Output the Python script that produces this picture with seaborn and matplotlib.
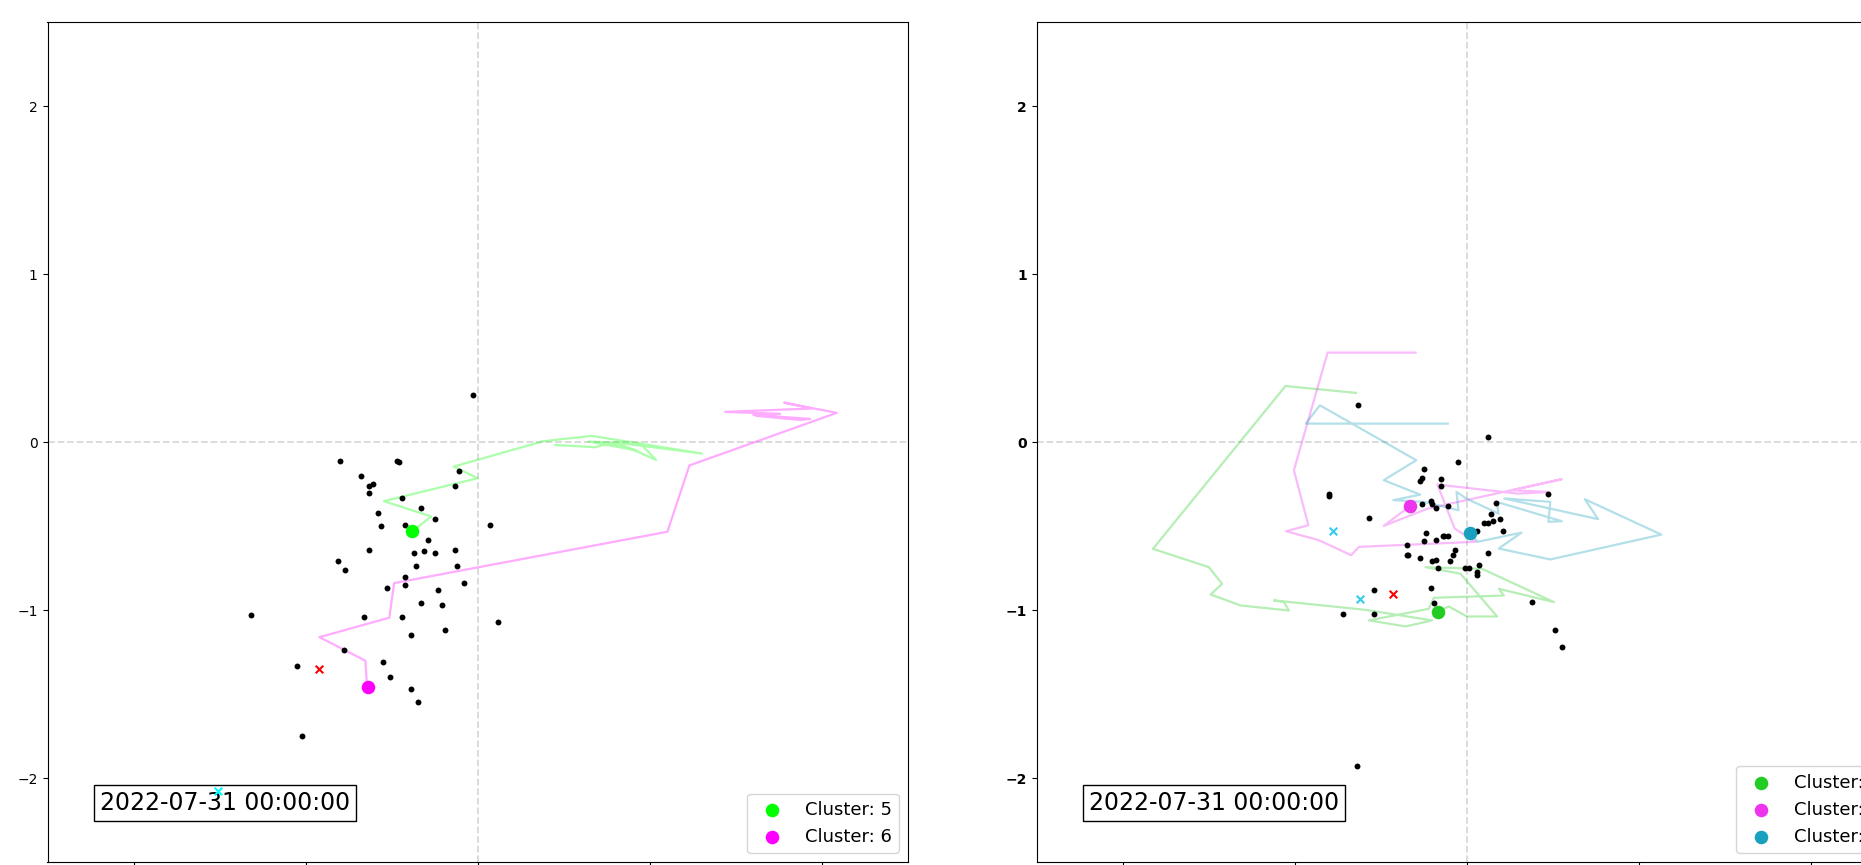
import matplotlib
matplotlib.use("Agg")
import matplotlib.pyplot as plt
import seaborn as sns

# ---------------- data: left panel ----------------
date_label = "2022-07-31 00:00:00"
ticks = [-2, -1, 0, 1, 2]

left_pts_x = [-0.03, -0.80, -0.47, -0.46, -0.68, -0.11, -0.61, -0.63, -0.13, -0.63,
              -0.44, -0.33, -0.58, -0.25, -0.56, -0.42, 0.07, -0.29, -0.63, -0.37,
              -0.31, -0.25, -0.13, -0.81, -0.77, -0.36, -0.12, -0.42, -0.42, -0.53,
              -0.08, -0.23, -0.33, -0.21, -1.32, -0.66, -0.44, 0.12, -0.39, -0.19,
              -0.78, -1.05, -0.55, -0.51, -0.39, -0.35, -1.02]
left_pts_y = [0.28, -0.11, -0.11, -0.12, -0.20, -0.17, -0.25, -0.26, -0.26, -0.30,
              -0.33, -0.39, -0.42, -0.46, -0.50, -0.49, -0.49, -0.58, -0.64, -0.66,
              -0.65, -0.66, -0.64, -0.71, -0.76, -0.74, -0.74, -0.80, -0.85, -0.87,
              -0.84, -0.88, -0.96, -0.97, -1.03, -1.04, -1.04, -1.07, -1.15, -1.12,
              -1.24, -1.33, -1.31, -1.40, -1.47, -1.55, -1.75]

left_clusters = ["Cluster: 5", "Cluster: 6"]
left_cent_x = [-0.38, -0.64]
left_cent_y = [-0.53, -1.46]
left_colors = ["#00ff00", "#ff00ff"]

left_trail5_x = [-0.38, -0.27, -0.546, 0.0, -0.14, 0.381, 0.662, 1.302, 0.808, 1.036,
                 0.943, 0.643, 0.924, 0.769, 0.682, 0.451]
left_trail5_y = [-0.53, -0.442, -0.351, -0.214, -0.145, 0.006, 0.038, -0.067, -0.002, -0.105,
                 -0.006, 0.004, -0.049, -0.006, -0.030, -0.016]
left_trail6_x = [-0.643, -0.653, -0.92, -0.514, -0.486, 1.102, 1.23, 2.086, 1.78, 1.941,
                 1.437, 1.757, 1.601, 1.931, 1.873, 1.621]
left_trail6_y = [-1.462, -1.301, -1.161, -1.045, -0.839, -0.533, -0.138, 0.175, 0.236, 0.201,
                 0.181, 0.169, 0.163, 0.139, 0.133, 0.157]

left_red_x, left_red_y = [-0.92], [-1.35]
left_cyan_x, left_cyan_y = [-1.51], [-2.08]

# ---------------- data: right panel ----------------
right_pts_x = [-0.63, 0.12, -0.05, -0.25, -0.26, -0.27, -0.15, -0.15, -0.80, -0.80,
               0.47, 0.17, -0.26, -0.21, -0.20, -0.18, -0.11, -0.32, -0.57, 0.14,
               0.19, 0.10, 0.12, 0.15, 0.21, -0.24, -0.25, -0.18, -0.14, -0.13,
               -0.11, 0.06, -0.35, -0.07, -0.08, -0.10, 0.12, -0.35, -0.34, -0.27,
               -0.20, -0.18, -0.17, -0.01, 0.01, 0.07, 0.06, 0.06, -0.21, -0.54,
               -0.19, 0.38, -0.72, -0.54, 0.51, 0.55, -0.64]
right_pts_y = [0.22, 0.03, -0.12, -0.16, -0.21, -0.23, -0.22, -0.26, -0.31, -0.32,
               -0.31, -0.36, -0.37, -0.35, -0.37, -0.39, -0.38, -0.40, -0.45, -0.43,
               -0.46, -0.48, -0.48, -0.47, -0.53, -0.54, -0.59, -0.58, -0.56, -0.56,
               -0.56, -0.53, -0.61, -0.64, -0.67, -0.71, -0.66, -0.67, -0.67, -0.69,
               -0.71, -0.70, -0.75, -0.75, -0.75, -0.73, -0.77, -0.79, -0.87, -0.88,
               -0.96, -0.95, -1.02, -1.02, -1.12, -1.22, -1.93]

right_clusters = ["Cluster: 5", "Cluster: 6", "Cluster: 7"]
right_cent_x = [-0.17, -0.33, 0.02]
right_cent_y = [-1.01, -0.38, -0.54]
right_colors = ["#22cc22", "#ee33ee", "#1aa0bf"]

right_trailA_x = [-0.17, -0.105, 0.002, 0.176, -0.037, -0.24, 0.089, 0.506, 0.186, 0.215,
                  -0.192, -0.221, -0.569, -0.356, -0.202, -0.589, -1.121, -1.063, -1.034,
                  -1.315, -1.489, -1.422, -1.499, -1.824, -1.054, -0.645]
right_trailA_y = [-1.01, -0.978, -1.038, -1.038, -0.783, -0.744, -0.754, -0.952, -0.873, -0.913,
                  -0.926, -0.992, -1.061, -1.097, -1.061, -0.998, -0.942, -0.952, -1.002,
                  -0.972, -0.907, -0.843, -0.744, -0.635, 0.335, 0.294]
right_trailB_x = [-0.33, -0.483, -0.227, 0.551, 0.262, 0.474, 0.296, -0.171, -0.071, 0.051,
                  -0.627, -0.672, -0.861, -1.05, -0.921, -1.005, -0.809, -0.298]
right_trailB_y = [-0.38, -0.498, -0.395, -0.22, -0.286, -0.296, -0.306, -0.252, -0.514, -0.593,
                  -0.623, -0.673, -0.583, -0.53, -0.494, -0.167, 0.534, 0.534]
right_trailC_x = [0.02, 0.062, 0.318, 0.185, 0.485, 1.13, 0.685, 0.763, 0.218, 0.485,
                  0.474, 0.551, 0.173, 0.185, -0.004, -0.06, -0.049, -0.249, -0.427,
                  -0.271, -0.483, -0.294, -0.854, -0.936, -0.111]
right_trailC_y = [-0.54, -0.593, -0.538, -0.633, -0.698, -0.55, -0.339, -0.458, -0.335, -0.355,
                  -0.474, -0.47, -0.355, -0.425, -0.335, -0.296, -0.405, -0.355, -0.345,
                  -0.312, -0.226, -0.107, 0.22, 0.111, 0.111]

right_red_x, right_red_y = [-0.43], [-0.905]
right_cyan_x, right_cyan_y = [-0.78, -0.62], [-0.526, -0.931]

# ---------------- figure ----------------
W, H = 1861, 865
fig = plt.figure(figsize=(W / 100, H / 100), dpi=100)
axL = fig.add_axes([47.5 / W, 3 / H, 860.5 / W, 839.5 / H])
axR = fig.add_axes([1036.6 / W, 3 / H, 860.5 / W, 839.5 / H])


def draw(ax, pts_x, pts_y, trails, cents_x, cents_y, colors, labels,
         red_x, red_y, cyan_x, cyan_y, cyan_col, bold):
    ax.axhline(0, color="#d9d9d9", ls="--", lw=1.3, zorder=0)
    ax.axvline(0, color="#d9d9d9", ls="--", lw=1.3, zorder=0)
    for (tx, ty), c in zip(trails, colors):
        sns.lineplot(x=tx, y=ty, sort=False, estimator=None, color=c, alpha=0.33,
                     lw=1.6, ax=ax, legend=False)
    sns.scatterplot(x=pts_x, y=pts_y, color="black", s=18, linewidth=0, ax=ax,
                    legend=False, zorder=3)
    sns.scatterplot(x=red_x, y=red_y, color="red", marker="x", s=30, linewidth=1.5,
                    ax=ax, legend=False, zorder=4)
    sns.scatterplot(x=cyan_x, y=cyan_y, color=cyan_col, marker="x", s=30, linewidth=1.5,
                    ax=ax, legend=False, zorder=4)
    for cx, cy, c, lab in zip(cents_x, cents_y, colors, labels):
        sns.scatterplot(x=[cx], y=[cy], color=c, s=95, linewidth=0, ax=ax,
                        label=lab, zorder=5)
    ax.set_xlim(-2.5, 2.5)
    ax.set_ylim(-2.5, 2.5)
    ax.set_xticks(ticks)
    ax.set_yticks(ticks)
    ax.tick_params(labelsize=10)
    ax.tick_params(axis="x", labelbottom=False)
    if bold:
        for t in ax.get_yticklabels():
            t.set_fontweight("bold")
    ax.set_xlabel("")
    ax.set_ylabel("")
    ax.legend(loc="lower right", fontsize=13)
    ax.text(0.061, 0.056, date_label, transform=ax.transAxes, fontsize=17,
            ha="left", va="bottom",
            bbox=dict(boxstyle="square,pad=0.25", facecolor="white", edgecolor="black"))


draw(axL, left_pts_x, left_pts_y,
     [(left_trail5_x, left_trail5_y), (left_trail6_x, left_trail6_y)],
     left_cent_x, left_cent_y, left_colors, left_clusters,
     left_red_x, left_red_y, left_cyan_x, left_cyan_y, "#00ffff", False)

draw(axR, right_pts_x, right_pts_y,
     [(right_trailA_x, right_trailA_y), (right_trailB_x, right_trailB_y),
      (right_trailC_x, right_trailC_y)],
     right_cent_x, right_cent_y, right_colors, right_clusters,
     right_red_x, right_red_y, right_cyan_x, right_cyan_y, "#33ccee", True)

fig.savefig("out.png", dpi=100)
